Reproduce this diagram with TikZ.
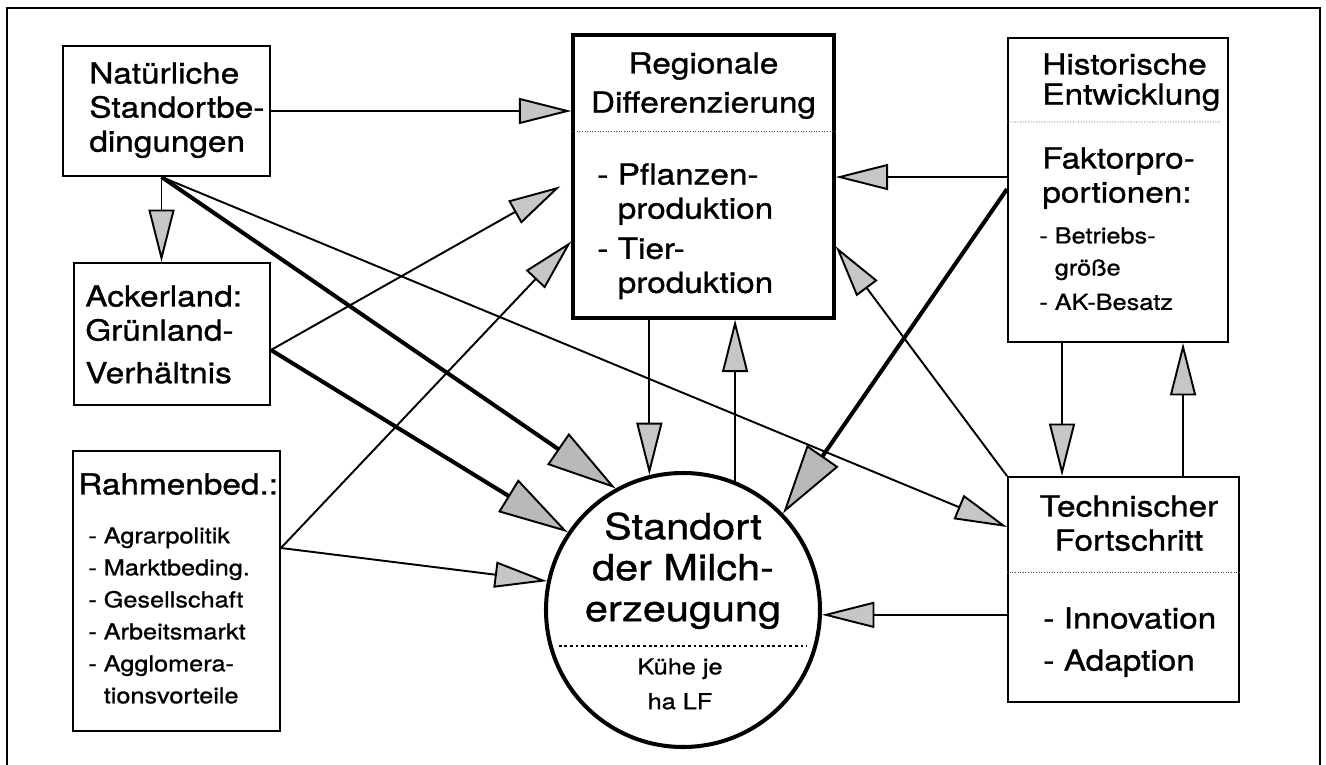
\documentclass[tikz,border=0pt]{standalone}
\usepackage{fontspec}
\setmainfont{TeX Gyre Heros}[FakeStretch=1.15, FakeBold=1]
\usetikzlibrary{arrows.meta}

\begin{document}
\begin{tikzpicture}[
    box/.style={rectangle, draw=black, line width=1.1pt, inner sep=0pt},
    headbox/.style={box, line width=1.9pt},
    hub/.style={circle, draw=black, line width=2.3pt, inner sep=0pt, minimum size=5.48cm},
    txt/.style={inner sep=0pt, align=left, anchor=north west, font=\fontsize{16.5}{19.4}\selectfont},
    ctxt/.style={txt, align=center, anchor=north},
    smalltxt/.style={txt, font=\fontsize{12.5}{18.2}\selectfont},
    smallctxt/.style={ctxt, font=\fontsize{12.5}{19.8}\selectfont},
    bigtxt/.style={ctxt, font=\fontsize{20.5}{23.3}\selectfont},
    divider/.style={densely dotted, line width=0.5pt, black!70},
    arrow/.style={-{Triangle[length=1.05cm, width=0.52cm, fill=gray!45]}, line width=1.1pt},
    bigarrow/.style={-{Triangle[length=1.4cm, width=0.76cm, fill=gray!55, line width=1.1pt]}, line width=2.3pt}
]
\useasboundingbox (0,0) rectangle (26.52,-15.3);

% Frame
\draw[line width=1.2pt] (0.14,-15.3) |- (26.4,-0.16) -- (26.4,-15.3);

% Boxes
\node[box, minimum width=4.14cm, minimum height=2.6cm] (natural) at (3.33,-2.22) {};
\node[box, minimum width=3.92cm, minimum height=2.84cm] (acker) at (3.44,-6.68) {};
\node[box, minimum width=4.14cm, minimum height=5.6cm] (rahmen) at (3.53,-11.82) {};
\node[headbox, minimum width=5.22cm, minimum height=5.66cm] (regional) at (14.07,-3.53) {};
\node[box, minimum width=4.4cm, minimum height=6.08cm] (history) at (22.36,-3.8) {};
\node[box, minimum width=4.62cm, minimum height=4.5cm] (technic) at (22.47,-11.79) {};
\node[hub] (milk) at (13.66,-12.2) {};

% Texts
\node[txt] (nattext) at (1.78,-1.24) {Natürliche\\Standortbe-\\dingungen};
\node[txt] (ackertext) at (1.7,-5.7) {Ackerland:\\Grünland-\\[0.17cm]Verhältnis};
\node[txt] (rahmenhead) at (1.56,-9.46) {Rahmenbed.:};
\node[smalltxt] (rahmenlist) at (1.76,-10.54) {- Agrarpolitik\\- Marktbeding.\\- Gesellschaft\\- Arbeitsmarkt\\- Agglomera-\\\phantom{- }tionsvorteile};
\node[ctxt] (reghead) at (14.07,-1.04) {Regionale\\[0.1cm]Differenzierung};
\node[txt] (reglist) at (11.94,-3.26) {- Pflanzen-\\\phantom{- }produktion\\[0.12cm]- Tier-\\\phantom{- }produktion};
\node[txt] (histhead) at (20.84,-1.06) {Historische\\[-0.08cm]Entwicklung};
\node[txt] (histbody) at (20.84,-2.94) {Faktorpro-\\portionen:};
\node[smalltxt] (histlist) at (20.78,-4.54) {- Betriebs-\\\phantom{- }größe\\[0.05cm]- AK-Besatz};
\node[ctxt] (techhead) at (22.58,-9.9) {Technischer\\Fortschritt};
\node[txt] (techlist) at (20.86,-12.14) {- Innovation\\[0.16cm]- Adaption};
\node[bigtxt] (milkhead) at (13.66,-10.24) {Standort\\der Milch-\\erzeugung};
\node[smallctxt] (milkfoot) at (13.6,-13.16) {Kühe je\\ha LF};

% Dotted separators
\draw[divider] ([yshift=-1.96cm]regional.north west) -- ([yshift=-1.96cm]regional.north east);
\draw[divider] ([yshift=-1.7cm]history.north west) -- ([shift={(-0.16,-1.7)}]history.north east);
\draw[divider] ([yshift=-1.92cm]technic.north west) -- ([yshift=-1.92cm]technic.north east);
\draw[dash pattern=on 1.6pt off 1.6pt, line width=0.8pt, shorten <=0.2cm, shorten >=0.2cm] (milk.195) -- (milk.345);

% Start points on the boxes
\coordinate (natfoot) at ([xshift=-0.1cm]natural.south);
\coordinate (ackout) at ([yshift=-0.32cm]acker.east);
\coordinate (rahmout) at ([yshift=0.86cm]rahmen.east);
\coordinate (histout) at ([yshift=-2.8cm]history.north west);
\coordinate (histlow) at ([yshift=-3.04cm]history.north west);
\coordinate (histdown) at ([xshift=1.1cm]history.south west);
\coordinate (histup) at ([xshift=3.52cm]history.south west);

% Connections
\draw[arrow] (natural.east) -- (natural.east -| regional.west);
\draw[arrow] (natfoot) -- (natfoot |- acker.north);
\draw[bigarrow] (natfoot) -- (milk.119);
\draw[arrow] (natfoot) -- ([yshift=-1.02cm]technic.north west);
\draw[arrow] (ackout) -- ([shift={(-0.22,-3.06)}]regional.north west);
\draw[bigarrow] (ackout) -- (milk.146);
\draw[arrow] (rahmout) -- ([yshift=-4.16cm]regional.north west);
\draw[arrow] (rahmout) -- (milk.168);
\draw[arrow] (milk.104 |- regional.south) -- (milk.104);
\draw[arrow] (milk.68) -- (milk.68 |- regional.south);
\draw[arrow] (histout) -- (histout -| regional.east);
\draw[bigarrow] (histlow) -- (milk.44);
\draw[arrow] (technic.north west) -- ([yshift=-4.26cm]regional.north east);
\draw[arrow] (histdown) -- (histdown |- technic.north);
\draw[arrow] (histup |- technic.north) -- (histup);
\draw[arrow] (milk.358 -| technic.west) -- (milk.358);

\end{tikzpicture}
\end{document}
